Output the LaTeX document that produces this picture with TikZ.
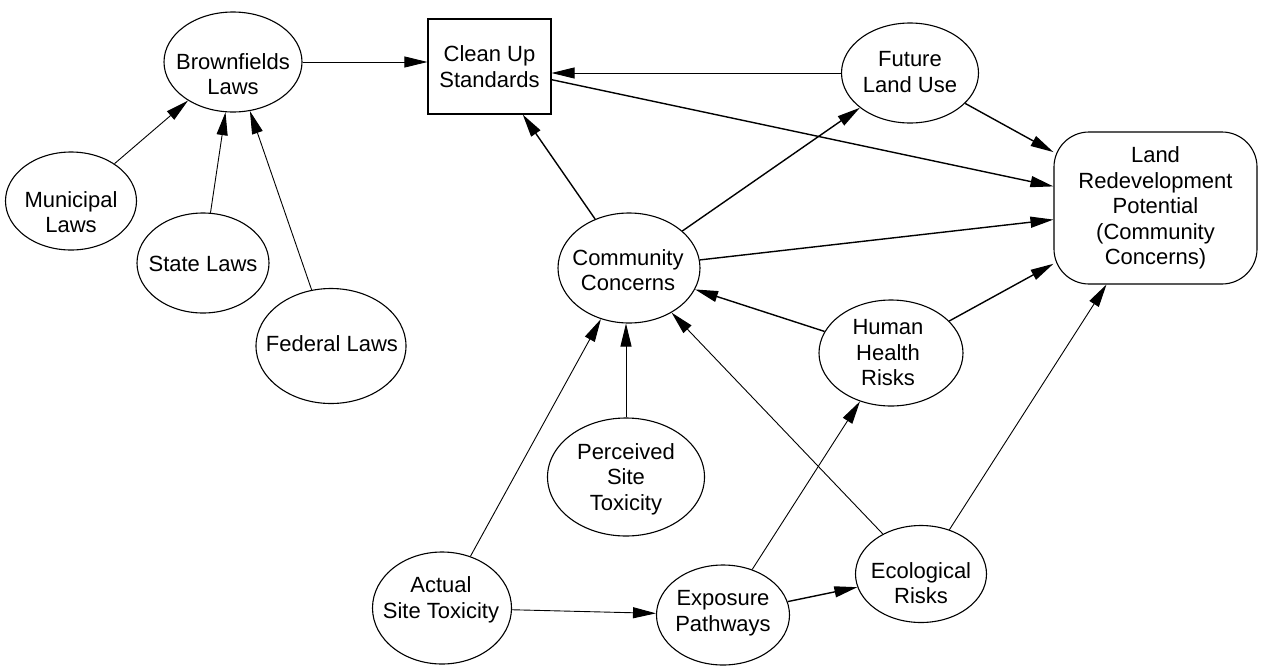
\documentclass[tikz,border=0pt]{standalone}
\usepackage{fontspec}
\setmainfont{Liberation Sans}
\usetikzlibrary{shapes.geometric,arrows.meta}
\begin{document}
\begin{tikzpicture}[x=1pt,y=-1pt,
  lbl/.style={font=\fontsize{22}{25.5}\selectfont, align=center, inner sep=0pt},
  oval/.style={ellipse, draw, line width=1.1pt, inner sep=0pt},
  boxed/.style={draw, line width=1.1pt, font=\fontsize{22}{25.5}\selectfont, align=center},
  edge/.style={draw, line width=0.9pt, -{Triangle[length=23pt,width=11pt]}},
  heavy/.style={edge, line width=1.4pt}]
\useasboundingbox (0,0) rectangle (1264,667);

% laws
\node[oval, minimum width=138pt, minimum height=100pt] (brown) at (233,62) {};
\node[lbl] (brown-t) at (233,74) {Brownfields\\Laws};
\node[oval, minimum width=131pt, minimum height=98pt] (muni) at (71,201) {};
\node[lbl] (muni-t) at (71,212) {Municipal\\Laws};
\node[oval, minimum width=132pt, minimum height=100pt] (state) at (203,263) {};
\node[lbl] (state-t) at (203,264) {State Laws};
\node[oval, minimum width=150pt, minimum height=115pt] (fed) at (331,346) {};
\node[lbl] (fed-t) at (332,344) {Federal Laws};

% standards, land use and redevelopment
\node[boxed, minimum width=123pt, minimum height=95pt] (clean) at (489.5,66.5) {Clean Up\\Standards};
\node[oval, minimum width=137pt, minimum height=100pt] (fut) at (910,73) {};
\node[lbl] (fut-t) at (910,72) {Future\\Land Use};
\node[boxed, rounded corners=35pt, minimum width=203pt, minimum height=152pt] (land) at (1155.5,208)
  {Land\\Redevelopment\\Potential\\(Community\\Concerns)};

% concerns, toxicity and risks
\node[oval, minimum width=142pt, minimum height=110pt] (comm) at (629,268) {};
\node[lbl] (comm-t) at (628,270) {Community\\Concerns};
\node[oval, minimum width=144pt, minimum height=106pt] (hhr) at (891,353) {};
\node[lbl] (hhr-t) at (888,353) {Human\\Health\\Risks};
\node[oval, minimum width=157pt, minimum height=118pt] (perc) at (626,477) {};
\node[lbl] (perc-t) at (626,479) {Perceived\\Site\\Toxicity};
\node[oval, minimum width=139pt, minimum height=112pt] (act) at (442,608) {};
\node[lbl] (act-t) at (441,600) {Actual\\Site Toxicity};
\node[oval, minimum width=133pt, minimum height=100pt] (expo) at (723,615) {};
\node[lbl] (expo-t) at (723,613) {Exposure\\Pathways};
\node[oval, minimum width=131pt, minimum height=97pt] (eco) at (921,574) {};
\node[lbl] (eco-t) at (921,583) {Ecological\\Risks};

% connectors
\draw[edge] (muni) -- (brown);
\draw[edge] (state) -- (brown);
\draw[edge] (fed) -- (brown);
\draw[edge] (brown.east) -- (brown.east -| clean.west);
\draw[edge] (fut.west) -- (fut.west -| clean.east);
\draw[heavy] (clean) -- (land);
\draw[heavy] (fut) -- (land);
\draw[heavy] (comm) -- (clean);
\draw[heavy] (comm) -- (fut);
\draw[heavy] (comm) -- (land);
\draw[heavy] (hhr) -- (comm);
\draw[heavy] (hhr) -- (land);
\draw[edge] (perc.north) -- (perc.north |- comm.south);
\draw[edge] (act) -- (comm);
\draw[edge] (eco) -- (comm);
\draw[edge] (eco) -- (land);
\draw[edge] (expo) -- (hhr);
\draw[edge] (act) -- (expo);
\draw[heavy] (expo) -- (eco);
\end{tikzpicture}
\end{document}
